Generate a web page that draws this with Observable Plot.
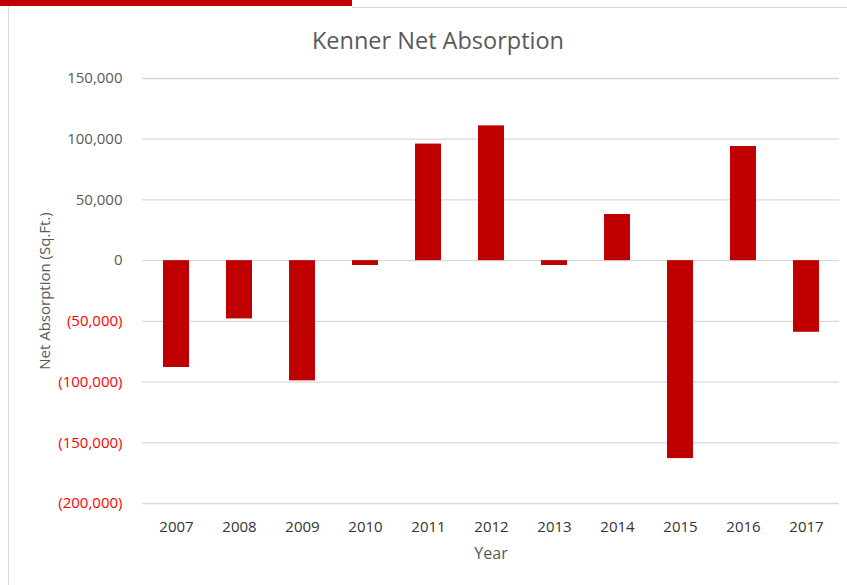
<!DOCTYPE html>
<html>
<head>
<meta charset="utf-8">
<script src="https://cdn.jsdelivr.net/npm/d3@7"></script>
<script src="https://cdn.jsdelivr.net/npm/@observablehq/plot@0.6"></script>
<style>
  html, body { margin: 0; padding: 0; background: #fff; }
  #wrap { position: relative; width: 847px; height: 585px; overflow: hidden; font-family: "Open Sans", sans-serif; }
  #redbar { position: absolute; left: 0; top: 0; width: 352px; height: 6px; background: #C00000; }
  #topline { position: absolute; left: 352px; top: 7px; width: 495px; height: 1px; background: #d9d9d9; }
  #leftline { position: absolute; left: 8px; top: 7px; width: 1px; height: 578px; background: #d9d9d9; }
  #title { position: absolute; left: 0; width: 876px; top: 25px; text-align: center; font-size: 23.5px; color: #595959; line-height: 30px; }
  #chart { position: absolute; left: 0; top: 0; }
</style>
</head>
<body>
<div id="wrap">
  <div id="chart"></div>
  <div id="redbar"></div>
  <div id="topline"></div>
  <div id="leftline"></div>
  <div id="title">Kenner Net Absorption</div>
</div>
<script>
const years = ["2007","2008","2009","2010","2011","2012","2013","2014","2015","2016","2017"];
const absorption = [-88000, -48000, -99000, -4000, 96000, 111000, -4000, 38000, -163000, 94000, -59000];
const yTicks = [-200000, -150000, -100000, -50000, 0, 50000, 100000, 150000];

const data = years.map((y, i) => ({year: y, value: absorption[i]}));
const fmt = v => v < 0 ? "(" + d3.format(",")(-v) + ")" : d3.format(",")(v);
const posTicks = yTicks.filter(v => v >= 0);
const negTicks = yTicks.filter(v => v < 0);

const chart = Plot.plot({
  width: 847,
  height: 585,
  marginLeft: 142,
  marginRight: 8,
  marginTop: 78,
  marginBottom: 82,
  style: {fontFamily: "'Open Sans', sans-serif", background: "transparent"},
  x: {domain: years, paddingInner: 0.59, paddingOuter: 0.295, label: null},
  y: {domain: [-200000, 150000], label: null},
  marks: [
    Plot.gridY(yTicks, {stroke: "#d9d9d9", strokeOpacity: 1, strokeWidth: 1.3}),
    Plot.barY(data, {x: "year", y: "value", fill: "#C00000"}),
    Plot.axisY(posTicks, {tickSize: 0, tickPadding: 20, tickFormat: fmt, fill: "#595959", fontSize: 15, label: null}),
    Plot.axisY(negTicks, {tickSize: 0, tickPadding: 20, tickFormat: fmt, fill: "#FF0000", fontSize: 15, label: null}),
    Plot.axisX({tickSize: 0, tickPadding: 18, fill: "#333333", fontSize: 15, label: null}),
    Plot.text(["Year"], {frameAnchor: "bottom", lineAnchor: "middle", dy: 50, fill: "#595959", fontSize: 16}),
    Plot.text(["Net Absorption (Sq.Ft.)"], {frameAnchor: "left", textAnchor: "middle", lineAnchor: "middle", dx: -97, rotate: -90, fill: "#595959", fontSize: 15})
  ]
});
document.getElementById("chart").appendChild(chart);
</script>
</body>
</html>
